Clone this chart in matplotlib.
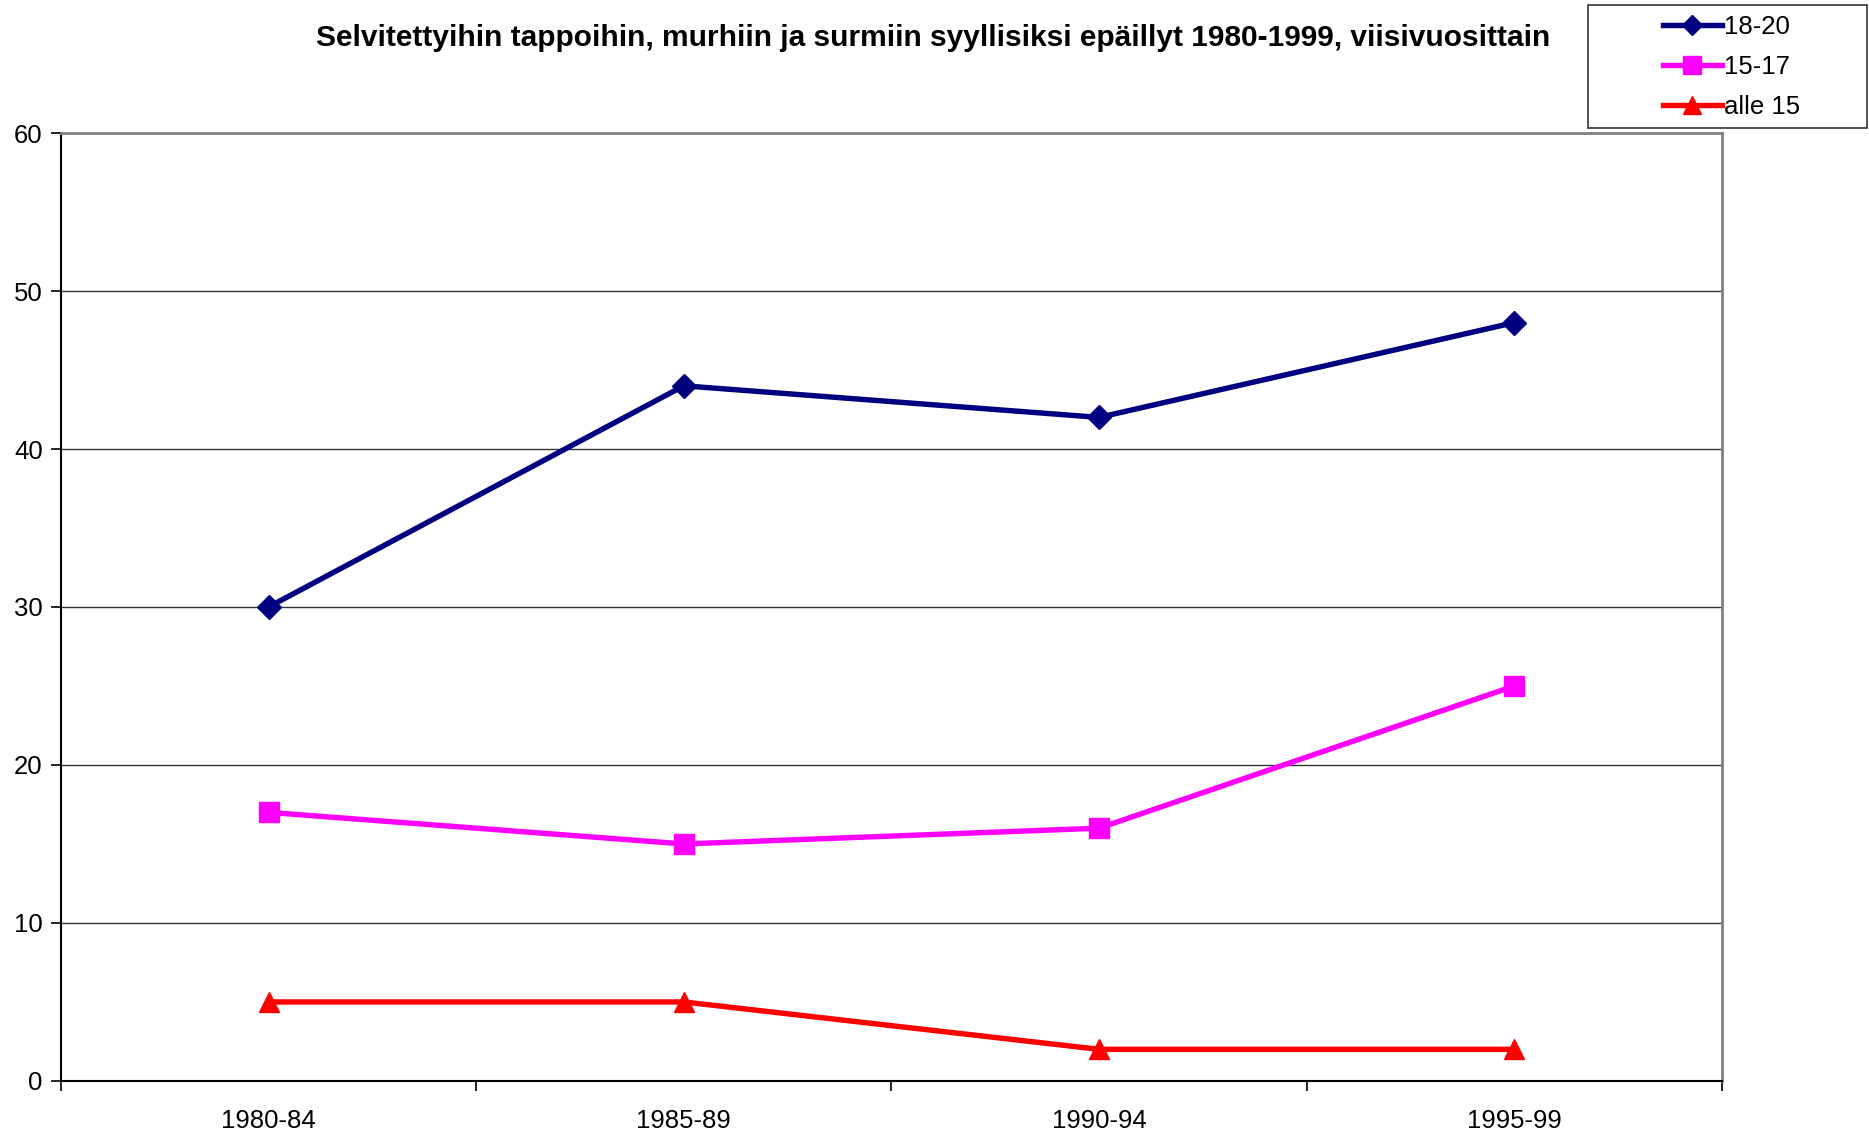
import matplotlib.pyplot as plt
from matplotlib.patches import Rectangle

plt.rcParams['font.family'] = ['Liberation Sans', 'DejaVu Sans']

periods = ['1980-84', '1985-89', '1990-94', '1995-99']
age_18_20 = [30, 44, 42, 48]
age_15_17 = [17, 15, 16, 25]
under_15 = [5, 5, 2, 2]

fig = plt.figure(figsize=(18.69, 11.37), dpi=100)
ax = fig.add_axes([0.0326, 0.0493, 0.9213 - 0.0326, 0.883 - 0.0493])

x = [i + 0.5 for i in range(len(periods))]
ax.plot(x, age_18_20, color='#000080', lw=3.9, marker='D', ms=12,
        label='18-20', zorder=3)
ax.plot(x, age_15_17, color='#FF00FF', lw=3.9, marker='s', ms=15,
        label='15-17', zorder=3)
ax.plot(x, under_15, color='#FF0000', lw=3.9, marker='^', ms=15,
        label='alle 15', zorder=3)

ax.set_xlim(0, 4)
ax.set_ylim(0, 60)
ax.set_yticks(range(0, 61, 10))
ax.set_xticks(range(0, 5))
ax.set_xticklabels([])
ax.set_xticks(x, minor=True)
ax.set_xticklabels(periods, minor=True)
ax.tick_params(axis='x', which='minor', length=0, pad=20, labelsize=18.5)
ax.tick_params(axis='x', which='major', length=7, width=1.2, direction='out')
ax.tick_params(axis='y', length=7, width=1.2, pad=6, labelsize=18.5)

ax.yaxis.grid(True, color='#333333', lw=1)
ax.set_axisbelow(True)
for side in ['left', 'bottom']:
    ax.spines[side].set_color('black')
    ax.spines[side].set_linewidth(1.5)
for side in ['top', 'right']:
    ax.spines[side].set_color('#808080')
    ax.spines[side].set_linewidth(2)

fig.text(0.499, 0.967, 'Selvitettyihin tappoihin, murhiin ja surmiin syyllisiksi epäillyt 1980-1999, viisivuosittain',
         ha='center', va='center', fontsize=21.5, fontweight='bold')

# legend frame
fig.patches.append(Rectangle((1588 / 1869, 1 - 128 / 1137), 279 / 1869, 123 / 1137,
                             transform=fig.transFigure, facecolor='white',
                             edgecolor='#333333', lw=1.2))
fig.legend(loc='center', bbox_to_anchor=((1588 + 1867) / 2 / 1869 + 4 / 1869, 1 - 67 / 1137),
           frameon=False, fontsize=18.5, handlelength=2.3, handletextpad=0.1,
           labelspacing=0.62, markerscale=0.85)

fig.savefig('out.png', dpi=100, facecolor='white')
